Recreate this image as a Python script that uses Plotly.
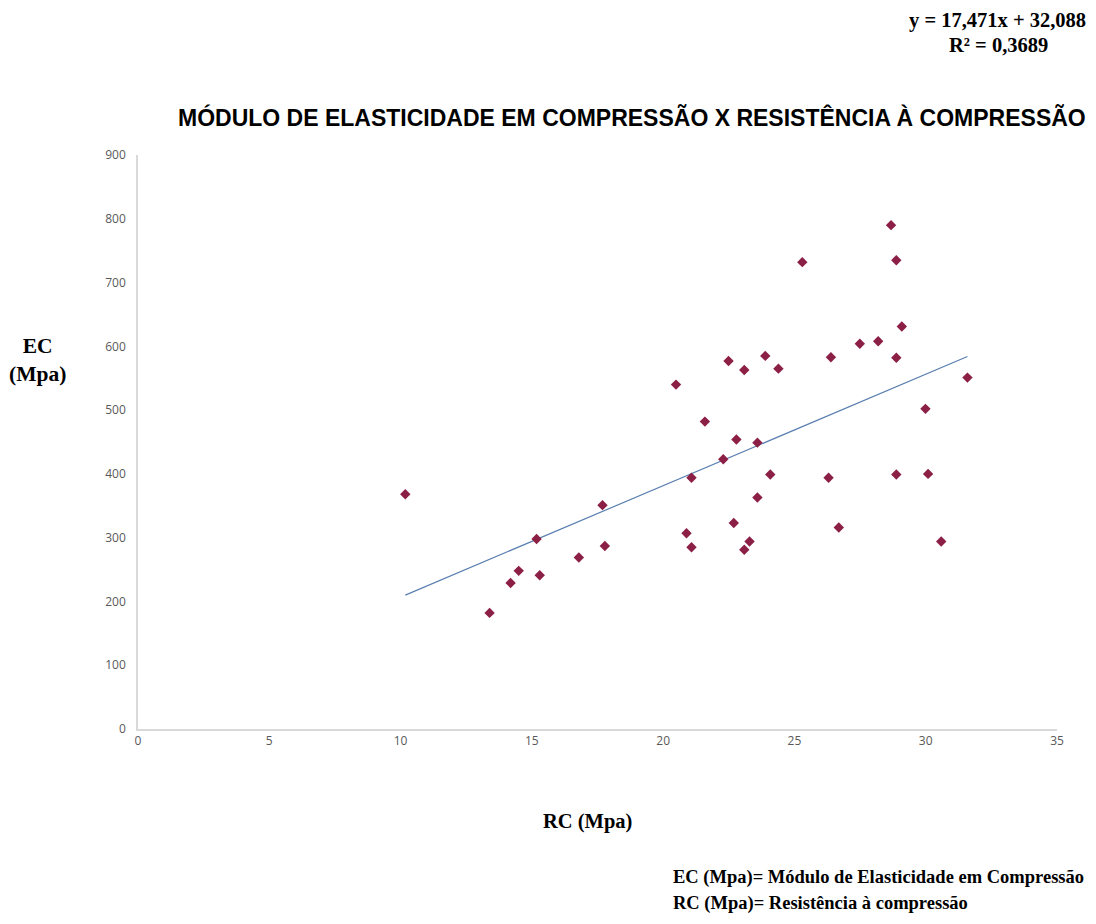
import plotly.graph_objects as go

# Data (RC in MPa, EC in MPa)
rc = [10.18, 13.39, 14.19, 14.50, 15.18, 15.30, 16.79, 17.69, 17.78, 20.49,
      20.89, 21.08, 21.08, 21.59, 22.29, 22.49, 22.69, 22.79, 23.09, 23.09,
      23.29, 23.59, 23.59, 23.89, 24.08, 24.39, 25.30, 26.30, 26.39, 26.69,
      27.49, 28.19, 28.68, 28.88, 28.88, 28.88, 29.09, 29.99, 30.09, 30.59,
      31.59]
ec = [368, 182, 229, 248, 298, 241, 269, 351, 287, 540,
      307, 394, 285, 482, 423, 577, 323, 454, 563, 281,
      294, 449, 363, 585, 399, 565, 732, 394, 583, 316,
      604, 608, 790, 735, 582, 399, 631, 502, 400, 294,
      551]

# Linear trend line coefficients (as shown on the chart)
slope = 17.471
intercept = 32.088
x_ticks = [0, 5, 10, 15, 20, 25, 30, 35]
y_ticks = [0, 100, 200, 300, 400, 500, 600, 700, 800, 900]

trend_x = [min(rc), max(rc)]
trend_y = [slope * v + intercept for v in trend_x]

W, H = 1096, 924
ML, MR, MT, MB = 138, 39, 155, 195
PW, PH = W - ML - MR, H - MT - MB


def px(xp):
    return (xp - ML) / PW


def py(yp):
    return (H - MB - yp) / PH


fig = go.Figure()
fig.add_trace(go.Scatter(
    x=trend_x, y=trend_y, mode="lines",
    line=dict(color="#5A7FB0", width=1.2),
    hoverinfo="skip", showlegend=False))
fig.add_trace(go.Scatter(
    x=rc, y=ec, mode="markers",
    marker=dict(symbol="diamond", size=8, color="#8C1F45"),
    showlegend=False))

serif = "Liberation Serif"
sans = "Liberation Sans"


def ann(text, x, y, size, family, xanchor="center"):
    return dict(text=text, x=px(x), y=py(y), xref="paper", yref="paper",
                xanchor=xanchor, yanchor="middle", showarrow=False,
                font=dict(family=family, size=size, color="black"))


fig.update_layout(
    width=W, height=H,
    margin=dict(l=ML, r=MR, t=MT, b=MB),
    paper_bgcolor="white", plot_bgcolor="white",
    showlegend=False,
    xaxis=dict(range=[0, 35], tickvals=x_ticks, showgrid=False, zeroline=False,
               showline=True, linecolor="#D9D9D9", linewidth=1.5, ticks="",
               tickfont=dict(family="Open Sans", size=12, color="#595959")),
    yaxis=dict(range=[0, 900], tickvals=y_ticks, showgrid=False, zeroline=False,
               showline=True, linecolor="#D9D9D9", linewidth=1.5, ticks="",
               tickfont=dict(family="Open Sans", size=12, color="#595959"),
               ticklabelstandoff=8),
    annotations=[
        ann("<b>MÓDULO DE ELASTICIDADE EM COMPRESSÃO X RESISTÊNCIA À COMPRESSÃO</b>",
            632, 117, 23, sans),
        ann("<b>y = 17,471x + 32,088</b>", 1088, 20, 20.5, serif, "right"),
        ann("<b>R² = 0,3689</b>", 1050, 45, 20.5, serif, "right"),
        ann("<b>EC<br>(Mpa)</b>", 37, 360, 21.5, serif),
        ann("<b>RC (Mpa)</b>", 587, 822, 20.5, serif),
        ann("<b>EC (Mpa)= Módulo de Elasticidade em Compressão</b>", 671, 877, 18.5, serif, "left"),
        ann("<b>RC (Mpa)= Resistência à compressão</b>", 671, 903, 18.5, serif, "left"),
    ],
)

fig.write_html("out.html")
